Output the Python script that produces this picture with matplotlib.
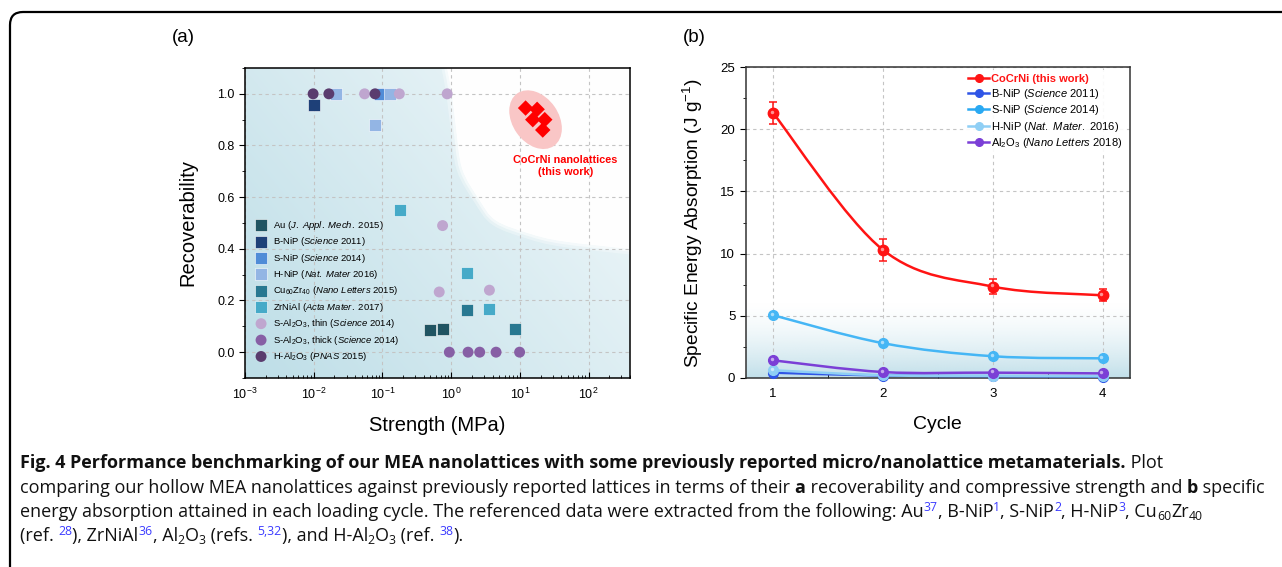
import numpy as np
import matplotlib
matplotlib.use("Agg")
import matplotlib.pyplot as plt
from matplotlib.lines import Line2D
from matplotlib.patches import Ellipse, PathPatch, FancyBboxPatch
from matplotlib.path import Path
import matplotlib.transforms as mtransforms

plt.rcParams['font.family'] = ['Liberation Sans', 'DejaVu Sans']
plt.rcParams['mathtext.fontset'] = 'custom'
plt.rcParams['mathtext.rm'] = 'Liberation Sans'
plt.rcParams['mathtext.it'] = 'Liberation Sans:italic'
plt.rcParams['mathtext.bf'] = 'Liberation Sans:bold'

# ---- panel (a) data: strength (MPa) vs recoverability ----
au_x = [0.485, 0.75];               au_y = [0.087, 0.089]
bnip_x = [0.01];                    bnip_y = [0.955]
snip_x = [0.091];                   snip_y = [1.0]
hnip_x = [0.021, 0.13, 0.078];      hnip_y = [1.0, 1.0, 0.88]
cuzr_x = [1.72, 8.4];               cuzr_y = [0.163, 0.088]
zrnial_x = [0.18, 1.72, 3.5];       zrnial_y = [0.552, 0.308, 0.169]
al_thin_x = [0.055, 0.176, 0.875, 0.75, 0.67, 3.6]
al_thin_y = [1.0, 1.0, 1.0, 0.49, 0.233, 0.24]
al_thick_x = [0.94, 1.76, 2.6, 4.5, 9.9]
al_thick_y = [0.0, 0.0, 0.0, 0.0, 0.0]
hal_x = [0.0098, 0.0166, 0.078];    hal_y = [1.0, 1.0, 1.0]
cocrni_x = [12.1, 17.8, 15.4, 23.0, 21.5]
cocrni_y = [0.945, 0.94, 0.90, 0.90, 0.86]

labels_a = [
    r'Au ($\mathit{J.\ Appl.\ Mech.\ 2015}$)',
    r'B-NiP ($\mathit{Science}$ 2011)',
    r'S-NiP ($\mathit{Science}$ 2014)',
    r'H-NiP ($\mathit{Nat.\ Mater}$ 2016)',
    r'Cu$_{60}$Zr$_{40}$ ($\mathit{Nano\ Letters}$ 2015)',
    r'ZrNiAl ($\mathit{Acta\ Mater.}$ 2017)',
    r'S-Al$_2$O$_3$, thin ($\mathit{Science}$ 2014)',
    r'S-Al$_2$O$_3$, thick ($\mathit{Science}$ 2014)',
    r'H-Al$_2$O$_3$ ($\mathit{PNAS\ 2015}$)',
]

# ---- panel (b) data: specific energy absorption per cycle ----
cycles = [1, 2, 3, 4]
cocrni_sea = [21.3, 10.3, 7.35, 6.65]
cocrni_err = [0.9, 0.9, 0.6, 0.5]
bnip_sea = [0.43, 0.2, 0.15, 0.12]
snip_sea = [5.05, 2.8, 1.75, 1.58]
hnip_sea = [0.62, 0.22, 0.17, 0.14]
al2o3_sea = [1.42, 0.48, 0.43, 0.37]

labels_b = [
    'CoCrNi (this work)',
    r'B-NiP ($\mathit{Science}$ 2011)',
    r'S-NiP ($\mathit{Science}$ 2014)',
    r'H-NiP ($\mathit{Nat.\ Mater.}$ 2016)',
    r'Al$_2$O$_3$ ($\mathit{Nano\ Letters}$ 2018)',
]


def smooth_path(xs, ys):
    pts = np.column_stack([xs, ys]).astype(float)
    n = len(pts)
    verts = [pts[0]]
    codes = [Path.MOVETO]
    for i in range(n - 1):
        p0 = pts[max(i - 1, 0)]
        p3 = pts[min(i + 2, n - 1)]
        verts += [pts[i] + (pts[i + 1] - p0) / 6, pts[i + 1] - (p3 - pts[i]) / 6, pts[i + 1]]
        codes += [Path.CURVE4] * 3
    return np.array(verts), codes


W, H = 1282, 567
fig = plt.figure(figsize=(W / 100, H / 100), dpi=100)

# outer rounded frame
frame = FancyBboxPatch((0.10, -0.3), 12.9, 5.85, boxstyle='round,pad=0,rounding_size=0.13',
                       transform=fig.dpi_scale_trans, facecolor='none', edgecolor='black', lw=1.6)
fig.add_artist(frame)

# ================= panel (a) =================
ax = fig.add_axes([245 / W, 189 / H, 385 / W, 310 / H])
ax.set_xscale('log')
ax.set_xlim(1e-3, 4e2)
ax.set_ylim(-0.1, 1.1)
ax.set_autoscale_on(False)

u, v = np.meshgrid(np.linspace(0, 1, 200), np.linspace(0, 1, 200))
a = np.clip(0.15 + 0.7 * (1 - 0.6 * u - 0.4 * v), 0, 1)[..., None]
blue = np.array([178, 216, 227]) / 255
bg = (1 - a) * 1.0 + a * blue
ax.imshow(bg, extent=(0, 1, 0, 1), transform=ax.transAxes, origin='lower',
          aspect='auto', zorder=0, interpolation='bilinear')

# white region in the upper right (smoothed in log10 space)
edge_logx = [-0.06, 0.01, 0.07, 0.16, 0.41, 0.65, 1.13, 1.61, 2.6, 2.7]
edge_y = [1.10, 1.00, 0.87, 0.71, 0.59, 0.51, 0.46, 0.43, 0.40, 0.40]
verts, codes = smooth_path(edge_logx, edge_y)
verts[:, 0] = 10 ** verts[:, 0]
verts = list(verts) + [(1e3, 0.40), (1e3, 1.2), (10 ** -0.06, 1.2)]
codes += [Path.LINETO] * 3
for lw, al in [(8, 0.3), (4, 0.5), (0, 0.95)]:
    ax.add_patch(PathPatch(Path(verts, codes), facecolor='white', edgecolor='white', lw=lw,
                           alpha=al, zorder=0.5))

ax.grid(True, which='major', color='#c4c4c4', ls=(0, (3, 3)), lw=0.8, zorder=1)
ax.set_axisbelow(True)

sq = dict(marker='s', s=76, edgecolors='white', linewidths=0.4, zorder=3)
ci = dict(marker='o', s=62, edgecolors='none', zorder=4)
ax.scatter(au_x, au_y, color='#205462', label=labels_a[0], **sq)
ax.scatter(bnip_x, bnip_y, color='#1e4078', label=labels_a[1], **sq)
ax.scatter(snip_x, snip_y, color='#508cd7', label=labels_a[2], **sq)
ax.scatter(hnip_x, hnip_y, color='#93b5e4', label=labels_a[3], **sq)
ax.scatter(cuzr_x, cuzr_y, color='#287891', label=labels_a[4], **sq)
ax.scatter(zrnial_x, zrnial_y, color='#46aac8', label=labels_a[5], **sq)
ax.scatter(al_thin_x, al_thin_y, color='#bfa6cf', label=labels_a[6], **ci)
ax.scatter(al_thick_x, al_thick_y, color='#875fa5', label=labels_a[7], **ci)
ax.scatter(hal_x, hal_y, color='#5a3c6e', label=labels_a[8], **ci)

ell_trans = fig.dpi_scale_trans + mtransforms.ScaledTranslation(16.9, 0.90, ax.transData)
ax.add_patch(Ellipse((0, 0), 0.64, 0.46, angle=-55, facecolor='#f9c6c6', edgecolor='none',
                     transform=ell_trans, zorder=2))
ax.scatter(cocrni_x, cocrni_y, marker='D', s=62, color='#ff0000', edgecolors='none', zorder=5)
ax.text(46, 0.72, 'CoCrNi nanolattices\n(this work)', color='#ff0000', fontsize=7.8,
        fontweight='bold', ha='center', va='center', linespacing=1.25, zorder=5)

leg = ax.legend(loc='upper left', bbox_to_anchor=(0.0, 0.535), frameon=False, fontsize=6.8,
                labelspacing=0.36, handletextpad=0.3, borderaxespad=0.3, scatterpoints=1)

ax.set_xticks([1e-3, 1e-2, 1e-1, 1e0, 1e1, 1e2])
ax.set_yticks([0.0, 0.2, 0.4, 0.6, 0.8, 1.0])
ax.set_yticks(np.arange(-0.1, 1.11, 0.1), minor=True)
ax.set_yticklabels(['0.0', '0.2', '0.4', '0.6', '0.8', '1.0'])
ax.tick_params(axis='x', which='both', direction='in', labelsize=9, pad=6)
ax.tick_params(axis='x', which='major', length=4.5)
ax.tick_params(axis='x', which='minor', length=2.5)
ax.tick_params(axis='y', which='both', direction='out', labelsize=9)
ax.tick_params(axis='y', which='major', length=4)
ax.tick_params(axis='y', which='minor', length=2.5)
for s in ax.spines.values():
    s.set_linewidth(1.1)
ax.set_xlabel('Strength (MPa)', fontsize=14.5)
ax.xaxis.set_label_coords(0.5, -0.122)
ax.set_ylabel('Recoverability', fontsize=14.5, va='center')
ax.yaxis.set_label_coords(-0.148, 0.5)

# ================= panel (b) =================
bx = fig.add_axes([745.7 / W, 189 / H, 384.3 / W, 311 / H])
bx.set_xlim(0.75, 4.25)
bx.set_ylim(0, 25)
bx.set_autoscale_on(False)

vv = np.linspace(0, 1, 200)[:, None]
grad = np.zeros((200, 2, 4))
grad[..., :3] = np.array([182, 218, 230]) / 255
grad[..., 3] = 0.85 * (1 - vv) ** 1.6
bx.imshow(grad, extent=(0.75, 4.25, 0, 6.2), origin='lower', aspect='auto', zorder=0,
          interpolation='bilinear')

bx.grid(True, which='major', color='#c4c4c4', ls=(0, (3, 3)), lw=0.8, zorder=1)
bx.set_axisbelow(True)

hl = mtransforms.ScaledTranslation(-0.012, 0.012, fig.dpi_scale_trans)
series_b = [
    (bnip_sea, '#2f55e6', 3),
    (hnip_sea, '#8fcff5', 3.2),
    (al2o3_sea, '#7b3fd6', 3.4),
    (snip_sea, '#45b6f5', 3.6),
]
for vals, col, z in series_b:
    verts, codes = smooth_path(cycles, vals)
    bx.add_patch(PathPatch(Path(verts, codes), facecolor='none', edgecolor=col, lw=1.8, zorder=z))
    bx.plot(cycles, vals, 'o', color=col, ms=7, mec=col, zorder=z + 0.05, clip_on=False)
    bx.plot(cycles, vals, 'o', color='white', alpha=0.55, ms=2.5, mew=0, zorder=z + 0.1,
            transform=bx.transData + hl, clip_on=False)

verts, codes = smooth_path(cycles, cocrni_sea)
bx.add_patch(PathPatch(Path(verts, codes), facecolor='none', edgecolor='#ff1414', lw=1.8, zorder=5))
bx.errorbar(cycles, cocrni_sea, yerr=cocrni_err, fmt='o', color='#ff1414', ms=7.5,
            capsize=3, elinewidth=1.1, capthick=1.1, zorder=5.5)
bx.plot(cycles, cocrni_sea, 'o', color='white', alpha=0.55, ms=2.5, mew=0, zorder=5.6,
        transform=bx.transData + hl)

handles = [Line2D([], [], color=c, marker='o', ms=5.5, lw=1.8)
           for c in ['#ff1414', '#2f55e6', '#2aa9f2', '#8fcff5', '#7b3fd6']]
legb = bx.legend(handles, labels_b, loc='upper right', bbox_to_anchor=(1.0, 1.0), fontsize=8,
                 frameon=True, framealpha=0.9, edgecolor='none', fancybox=False,
                 handlelength=1.9, handletextpad=0.2, labelspacing=0.22, borderaxespad=0.25)
legb.get_texts()[0].set_color('#ff1414')
legb.get_texts()[0].set_fontweight('bold')

bx.set_xticks(cycles)
bx.set_xticks([1.5, 2.5, 3.5], minor=True)
bx.set_yticks([0, 5, 10, 15, 20, 25])
bx.set_yticks(np.arange(0, 25.1, 2.5), minor=True)
bx.tick_params(axis='x', which='both', direction='in', labelsize=9.5, pad=7)
bx.tick_params(axis='x', which='major', length=4)
bx.tick_params(axis='x', which='minor', length=3)
bx.tick_params(axis='y', which='both', direction='out', labelsize=9.5)
bx.tick_params(axis='y', which='major', length=4)
bx.tick_params(axis='y', which='minor', length=2.5)
for s in bx.spines.values():
    s.set_linewidth(1.1)
    s.set_color('#333333')
bx.set_xlabel('Cycle', fontsize=14)
bx.xaxis.set_label_coords(0.5, -0.122)
bx.set_ylabel(r'Specific Energy Absorption (J g$^{-1}$)', fontsize=13.8, va='center')
bx.yaxis.set_label_coords(-0.137, 0.5)

fig.text(183 / W, 1 - 38 / H, '(a)', fontsize=13.5, ha='center', va='center')
fig.text(694 / W, 1 - 38 / H, '(b)', fontsize=13.5, ha='center', va='center')

# ================= caption =================
cap_font = ['Open Sans', 'DejaVu Sans']
cap_fs = 13
cap_lines = [
    [('Fig. 4 Performance benchmarking of our MEA nanolattices with some previously reported '
      'micro/nanolattice metamaterials.', 'b'), (' Plot', 'r')],
    [('comparing our hollow MEA nanolattices against previously reported lattices in terms of their ', 'r'),
     ('a', 'b'), (' recoverability and compressive strength and ', 'r'), ('b', 'b'), (' specific', 'r')],
    [('energy absorption attained in each loading cycle. The referenced data were extracted from the '
      'following: Au', 'r'), ('37', 'sup'), (', B-NiP', 'r'), ('1', 'sup'), (', S-NiP', 'r'), ('2', 'sup'),
     (', H-NiP', 'r'), ('3', 'sup'), (', Cu', 'r'), ('60', 'sub'), ('Zr', 'r'), ('40', 'sub')],
    [('(ref. ', 'r'), ('28', 'sup'), ('), ZrNiAl', 'r'), ('36', 'sup'), (', Al', 'r'), ('2', 'sub'),
     ('O', 'r'), ('3', 'sub'), (' (refs. ', 'r'), ('5,32', 'sup'), ('), and H-Al', 'r'), ('2', 'sub'),
     ('O', 'r'), ('3', 'sub'), (' (ref. ', 'r'), ('38', 'sup'), (').', 'r')],
]
cap_base = [468, 493, 517, 541]

renderer = fig.canvas.get_renderer()


def run_width(s, **kw):
    t1 = fig.text(0, 0, '|' + s + '|', **kw)
    t2 = fig.text(0, 0, '||', **kw)
    w = t1.get_window_extent(renderer).width - t2.get_window_extent(renderer).width
    t1.remove()
    t2.remove()
    return w


for runs, yb in zip(cap_lines, cap_base):
    x = 20.0
    for s, style in runs:
        kw = dict(family=cap_font, fontsize=cap_fs, color='#111111')
        dy = 0
        if style == 'b':
            kw['fontweight'] = 'bold'
        elif style == 'sup':
            kw.update(fontsize=cap_fs * 0.68, color='#3b3bff')
            dy = 6
        elif style == 'sub':
            kw['fontsize'] = cap_fs * 0.68
            dy = -3
        fig.text(x / W, 1 - (yb - dy) / H, s, ha='left', va='baseline', **kw)
        x += run_width(s, **kw)

fig.savefig('out.png', dpi=100)
